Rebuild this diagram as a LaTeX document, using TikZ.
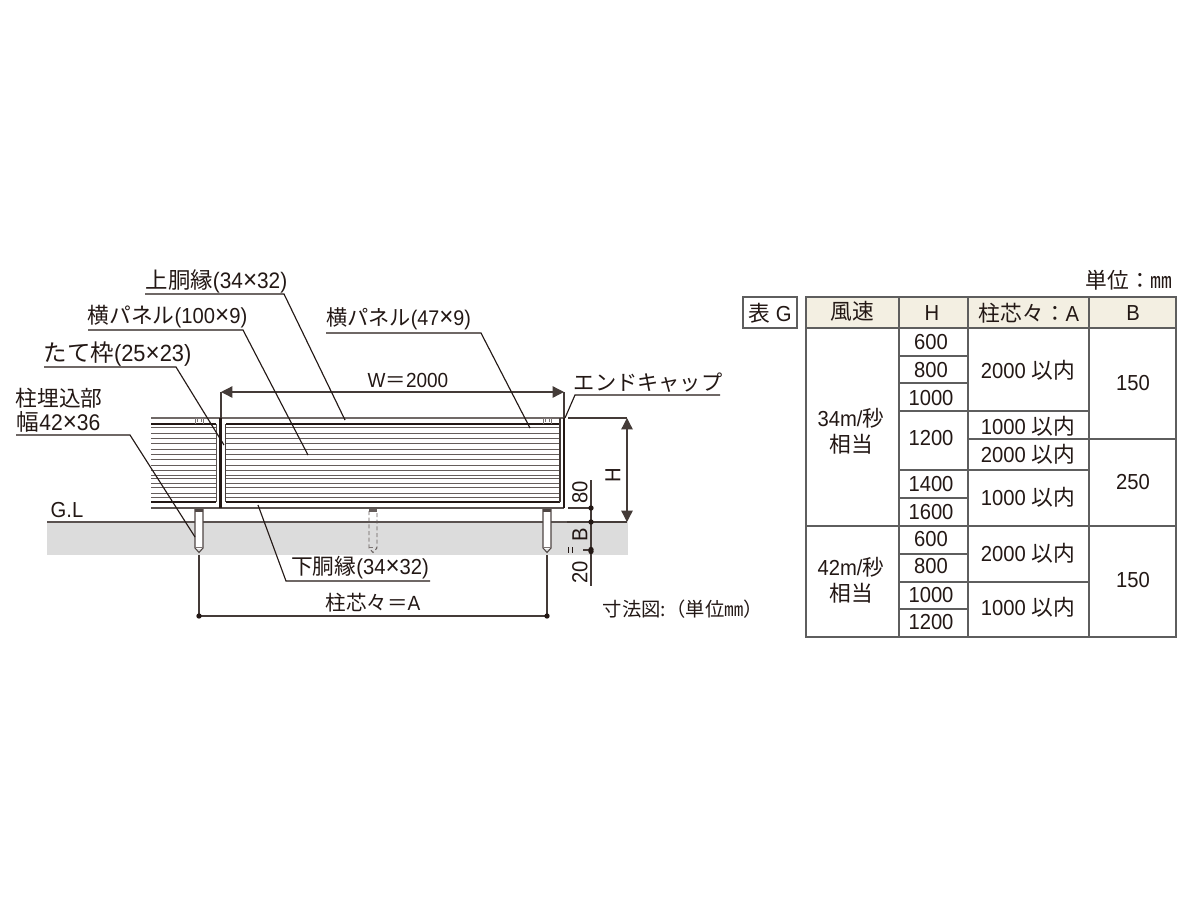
\documentclass[tikz,border=0pt]{standalone}
\usepackage{fontspec}
\setmainfont[FakeStretch=0.93]{Liberation Sans}
\newfontfamily\cjk{Noto Sans CJK JP}
\usetikzlibrary{arrows.meta}
\definecolor{ink}{HTML}{231815}
\definecolor{ground}{HTML}{DCDCDC}
\definecolor{headfill}{HTML}{F3EFE2}
\definecolor{rule}{HTML}{5E5E5E}
\newcommand{\J}[1]{{\cjk #1}}
\newcommand{\X}{{\fontsize{19.5}{19}\selectfont ×}}
\tikzset{
  lbl/.style={inner sep=0pt,text=ink,font=\fontsize{16.3}{19}\selectfont},
  cell/.style={lbl},
  leader/.style={draw=ink,line width=0.85pt},
  dimline/.style={draw=ink!85,line width=1pt},
  louver/.style={draw=ink!70,line width=0.75pt},
  heavy/.style={draw=ink,line width=1pt},
  grid/.style={draw=rule,line width=0.8pt},
  dimarrow/.style={dimline,{Triangle[length=8.5pt,width=8.5pt]}-{Triangle[length=8.5pt,width=8.5pt]}},
  dotmark/.style={circle,fill=ink,inner sep=0pt,minimum size=4pt},
}
\begin{document}
\begin{tikzpicture}[x=0.75pt,y=-0.75pt]
\useasboundingbox (0,0) rectangle (1200,900);
\fill[white] (0,0) rectangle (1200,900);

% ground
\fill[ground] (47,522) rectangle (628,555);
\draw[draw=ink!75,line width=0.9pt] (47,522) -- (627,522);

% louvers
\foreach \y in {427,433,438,443,449,454,459,465,470,475,478,483,487,493,497}{
  \draw[louver] (151,\y) -- (216,\y);
  \draw[louver] (226,\y) -- (560,\y);
}
% rails
\draw[draw=ink!65,line width=1pt] (151,418) -- (564,418);
\draw[heavy] (151,424) -- (216,424);
\draw[heavy] (226,424) -- (560,424);
\draw[heavy] (151,502) -- (216,502);
\draw[heavy] (226,502) -- (560,502);
\draw[draw=ink!75,line width=0.9pt] (151,508) -- (564,508);
% uprights
\draw[draw=ink!75,line width=0.7pt] (216,424) -- (216,502);
\draw[draw=ink,line width=1.6pt] (220.5,418) -- (220.5,508);
\draw[draw=ink!85,line width=0.9pt] (225.5,424) -- (225.5,502);
\draw[draw=ink!85,line width=0.9pt] (560,418) -- (560,502);
\draw[draw=ink,line width=1pt] (564,418) -- (564,508);
% clips
\foreach \x in {199,547}{
  \draw[draw=ink!60,line width=0.5pt] (\x-4,424) -- (\x-4,418.5) -- (\x+4,418.5) -- (\x+4,424);
  \draw[draw=ink!60,line width=0.4pt] (\x-2,419) -- (\x-2,422) (\x+2,419) -- (\x+2,422);
}
% posts
\foreach \x in {199,547}{
  \fill[white] (\x-4,509) rectangle (\x+4,549);
  \fill[ink!80] (\x-4,508.5) rectangle (\x+4,512);
  \draw[draw=ink!80,line width=0.8pt] (\x-4,509) -- (\x-4,548) -- (\x,552.5) -- (\x+4,548) -- (\x+4,509);
  \draw[draw=ink!60,line width=0.4pt] (\x-4,547) -- (\x+4,547);
}
\fill[ink!70] (369,508.5) rectangle (377,512);
\draw[draw=ink!70,line width=0.7pt,densely dashed] (369,511) -- (369,548) -- (373,552.5) -- (377,548) -- (377,511);
\draw[draw=ink!60,line width=0.4pt,densely dashed] (369,547) -- (377,547);

% named points of dimensions and leaders
\coordinate (wl) at (221,392); \coordinate (wr) at (564,392);
\coordinate (wlb) at (221,418); \coordinate (wrb) at (564,418);
\coordinate (ht) at (627,418); \coordinate (hb) at (627,522);
\coordinate (hte) at (568,418); \coordinate (hbe) at (567,522);
\coordinate (al) at (199,616); \coordinate (ar) at (547,616);
\coordinate (alt) at (199,555); \coordinate (art) at (547,555);

% W
\draw[dimarrow] (wl) -- (wr);
\draw[dimline] (wl) -- (wlb) (wr) -- (wrb);
% H
\draw[dimarrow] (ht) -- (hb);
\draw[dimline] (hte) -- (ht);
\draw[dimline] (hbe) -- (hb);
% 80/B/20
\coordinate (s1) at (591,480); \coordinate (s2) at (591,586);
\draw[dimline] (s1) -- (s2);
\draw[dimline] (568,508) -- (591,508);
\draw[dimline] (583,550) -- (591,550);
\node[dotmark] (d1) at (591,508) {};
\node[dotmark] (d2) at (591,522) {};
\node[dotmark] (d3) at (591,549.5) {};
\node[dotmark] (d4) at (591,551.5) {};
\draw[draw=ink,line width=1.1pt] (568.5,547) -- (568.5,553) (572.5,547) -- (572.5,553);
% A
\draw[dimline] (alt) -- (al) -- (ar) -- (art);
\node[dotmark] (d5) at (al) {};
\node[dotmark] (d6) at (ar) {};

% dimension texts
\node[lbl,font=\fontsize{15.3}{18}\selectfont] (tW) at (408,380) {W\J{＝}2000};
\node[lbl,rotate=90] (tH) at (613,475) {H};
\node[lbl,rotate=90] (t80) at (580,492) {80};
\node[lbl,rotate=90] (tB) at (580,535) {B};
\node[lbl,rotate=90] (t20) at (580,572) {20};
\node[lbl,font=\fontsize{15.4}{18}\selectfont] (tA) at (373,603) {\J{柱芯々＝}A};
\node[lbl] (tGL) at (67,510) {G.L};
\node[lbl,font=\fontsize{14.5}{18}\selectfont] (tNote) at (683,609) {\J{寸法図:（単位㎜）}};

% leaders
\node[lbl,font=\fontsize{16.8}{19}\selectfont] (n1) at (216.5,281) {\J{上胴縁}(34\X32)};
\coordinate (n1a) at (145,294); \coordinate (n1b) at (284,294); \coordinate (n1c) at (345,420);
\draw[leader] (n1a) -- (n1b) -- (n1c);
\node[lbl] (n2) at (167.5,317) {\J{横パネル}(100\X9)};
\coordinate (n2a) at (88,330); \coordinate (n2b) at (243,330); \coordinate (n2c) at (308,455);
\draw[leader] (n2a) -- (n2b) -- (n2c);
\node[lbl,font=\fontsize{17.6}{19}\selectfont] (n3) at (117.5,354) {\J{たて枠}(25\X23)};
\coordinate (n3a) at (44,367); \coordinate (n3b) at (176,367); \coordinate (n3c) at (224,445);
\draw[leader] (n3a) -- (n3b) -- (n3c);
\node[lbl] (n4) at (59,398) {\J{柱埋込部}};
\node[lbl,font=\fontsize{17}{19}\selectfont] (n4b) at (58.5,422) {\J{幅}42\X36};
\coordinate (n4a) at (16,435); \coordinate (n4c) at (130,435); \coordinate (n4d) at (195,537);
\draw[leader] (n4a) -- (n4c) -- (n4d);
\node[lbl,font=\fontsize{15.9}{19}\selectfont] (n5) at (398.5,319) {\J{横パネル}(47\X9)};
\coordinate (n5a) at (326,333); \coordinate (n5b) at (481,333); \coordinate (n5c) at (530,428);
\draw[leader] (n5a) -- (n5b) -- (n5c);
\node[lbl,font=\fontsize{15.9}{18}\selectfont] (n6) at (648,383) {\J{エンドキャップ}};
\coordinate (n6a) at (720,395); \coordinate (n6b) at (575,395); \coordinate (n6c) at (565,418);
\draw[leader] (n6a) -- (n6b) -- (n6c);
\node[lbl] (n7) at (360,568) {\J{下胴縁}(34\X32)};
\coordinate (n7a) at (430,581); \coordinate (n7b) at (286,581); \coordinate (n7c) at (258,505);
\draw[leader] (n7a) -- (n7b) -- (n7c);

% table
\node[lbl] (unit) at (1129,280) {\J{単位：㎜}};
\draw[grid,fill=white] (743,297) rectangle (797,328);
\node[lbl] (tg) at (770,313) {\J{表} G};
\fill[headfill] (806,297) rectangle (1176,328);
\draw[grid] (806,297) rectangle (1176,637);
\draw[grid] (806,328) -- (1176,328);
\foreach \x in {899,968,1089}{\draw[grid] (\x,297) -- (\x,637);}
\draw[grid] (899,356) -- (968,356) (899,383) -- (968,383);
\draw[grid] (899,411) -- (1089,411);
\draw[grid] (968,439) -- (1176,439);
\draw[grid] (899,470) -- (1089,470);
\draw[grid] (899,498) -- (968,498);
\draw[grid] (806,526) -- (1176,526);
\draw[grid] (899,554) -- (968,554);
\draw[grid] (899,582) -- (1089,582);
\draw[grid] (899,609) -- (968,609);

\node[cell] (h1) at (852,311) {\J{風速}};
\node[cell] (h2) at (932,313) {H};
\node[cell] (h3) at (1029,313) {\J{柱芯々：}A};
\node[cell] (h4) at (1133,313) {B};
\node[cell] (w1) at (851,418) {34m/\J{秒}};
\node[cell] (w1b) at (851,444) {\J{相当}};
\node[cell] (w2) at (851,567) {42m/\J{秒}};
\node[cell] (w2b) at (851,593) {\J{相当}};
\node[cell] (c1) at (931,342) {600};
\node[cell] (c2) at (931,370) {800};
\node[cell] (c3) at (931,398) {1000};
\node[cell] (c4) at (931,438) {1200};
\node[cell] (c5) at (931,484) {1400};
\node[cell] (c6) at (931,512) {1600};
\node[cell] (c7) at (931,539) {600};
\node[cell] (c8) at (931,566) {800};
\node[cell] (c9) at (931,595) {1000};
\node[cell] (c10) at (931,622) {1200};
\node[cell] (a1) at (1028,370) {2000 \J{以内}};
\node[cell] (a2) at (1028,426) {1000 \J{以内}};
\node[cell] (a3) at (1028,454) {2000 \J{以内}};
\node[cell] (a4) at (1028,497) {1000 \J{以内}};
\node[cell] (a5) at (1028,553) {2000 \J{以内}};
\node[cell] (a6) at (1028,607) {1000 \J{以内}};
\node[cell] (b1) at (1133,383) {150};
\node[cell] (b2) at (1133,482) {250};
\node[cell] (b3) at (1133,580) {150};
\end{tikzpicture}
\end{document}
